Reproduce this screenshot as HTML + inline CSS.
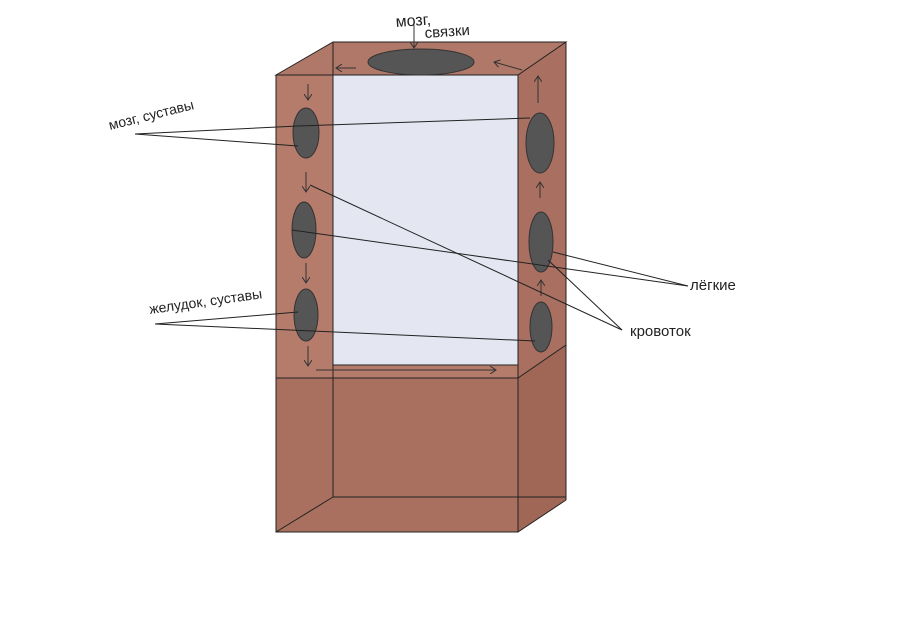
<!DOCTYPE html>
<html><head><meta charset="utf-8"><style>
html,body{margin:0;padding:0;background:#fff;}
svg{display:block}
text{font-family:"Liberation Sans",sans-serif;fill:#222;}
</style></head><body>
<svg width="900" height="637" viewBox="0 0 900 637" xmlns="http://www.w3.org/2000/svg">
<defs>
<marker id="a" markerWidth="8" markerHeight="8" refX="6" refY="4" orient="auto"><path d="M0,0 L6,4 L0,8" fill="none" stroke="#333" stroke-width="1"/></marker>
</defs>
<rect width="900" height="637" fill="#fff"/>
<!-- top face -->
<polygon points="276,75 333,42 566,42 518,75" fill="#b07868"/>
<!-- right side -->
<polygon points="518,75 566,42 566,500 518,532" fill="#a96f60"/>
<!-- front left strip -->
<rect x="276" y="75" width="57" height="303" fill="#b57c6c"/>
<!-- top strip -->
<rect x="333" y="42" width="185" height="33" fill="#b07868"/>
<!-- window -->
<rect x="333" y="75" width="185" height="290" fill="#e4e6f2"/>
<rect x="333" y="365" width="185" height="13" fill="#b57c6c"/>
<!-- bottom box -->
<rect x="276" y="378" width="242" height="154" fill="#a9705f"/>
<polygon points="518,378 566,345 566,500 518,532" fill="#a06656"/>
<!-- edges -->
<g stroke="#222" stroke-width="1" fill="none">
<polygon points="276,75 333,42 566,42 518,75"/>
<rect x="276" y="75" width="242" height="457"/>
<line x1="566" y1="42" x2="566" y2="500"/>
<line x1="518" y1="532" x2="566" y2="500"/>
<line x1="333" y1="42" x2="333" y2="497"/>
<line x1="333" y1="497" x2="566" y2="497"/>
<line x1="276" y1="532" x2="333" y2="497"/>
<line x1="276" y1="378" x2="518" y2="378"/>
<line x1="518" y1="378" x2="566" y2="345"/>
<line x1="333" y1="365" x2="518" y2="365"/>
</g>
<!-- ellipses -->
<g fill="#555" stroke="#333" stroke-width="1">
<ellipse cx="421" cy="62" rx="53" ry="13"/>
<ellipse cx="306" cy="133" rx="13" ry="25"/>
<ellipse cx="304" cy="230" rx="12" ry="28"/>
<ellipse cx="306" cy="315" rx="12" ry="26"/>
<ellipse cx="540" cy="143" rx="14" ry="30"/>
<ellipse cx="541" cy="242" rx="12" ry="30"/>
<ellipse cx="541" cy="327" rx="11" ry="25"/>
</g>
<!-- flow arrows -->
<g stroke="#333" stroke-width="1" fill="none" marker-end="url(#a)">
<line x1="356" y1="68" x2="336" y2="68"/>
<line x1="522" y1="70" x2="494" y2="62"/>
<line x1="538" y1="103" x2="538" y2="76"/>
<line x1="540" y1="198" x2="540" y2="182"/>
<line x1="541" y1="296" x2="541" y2="280"/>
<line x1="308" y1="84" x2="308" y2="100"/>
<line x1="306" y1="172" x2="306" y2="192"/>
<line x1="306" y1="263" x2="306" y2="283"/>
<line x1="308" y1="346" x2="308" y2="366"/>
<line x1="316" y1="370" x2="496" y2="370"/>
<line x1="414" y1="25" x2="414" y2="48"/>
</g>
<!-- label lines -->
<g stroke="#222" stroke-width="1">
<line x1="135" y1="134" x2="298" y2="126"/>
<line x1="135" y1="134" x2="298" y2="146"/>
<line x1="298" y1="126" x2="530" y2="118"/>
<line x1="155" y1="324" x2="298" y2="312"/>
<line x1="155" y1="324" x2="535" y2="341"/>
<line x1="292" y1="230" x2="688" y2="286"/>
<line x1="553" y1="252" x2="688" y2="286"/>
<line x1="310" y1="185" x2="622" y2="330"/>
<line x1="548" y1="260" x2="622" y2="330"/>
</g>
<!-- labels -->
<text x="396" y="27" font-size="16" transform="rotate(-4 396 27)">мозг,</text>
<text x="425" y="38" font-size="15" transform="rotate(-4 425 38)">связки</text>
<text x="110" y="130" font-size="14" transform="rotate(-14 110 130)">мозг, суставы</text>
<text x="150" y="314" font-size="14" transform="rotate(-8 150 314)">желудок, суставы</text>
<text x="690" y="290" font-size="15">лёгкие</text>
<text x="630" y="336" font-size="15">кровоток</text>
</svg>
</body></html>
